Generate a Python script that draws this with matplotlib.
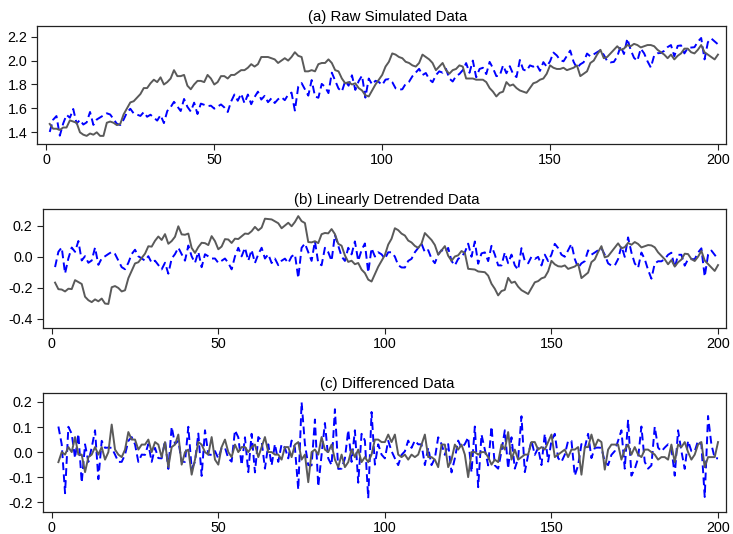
import numpy as np
import matplotlib
matplotlib.use('Agg')
import matplotlib.pyplot as plt
from matplotlib.ticker import FormatStrFormatter

plt.rcParams['font.family'] = ['Liberation Sans', 'DejaVu Sans']
plt.rcParams['axes.unicode_minus'] = False

# time index
t = np.arange(1, 201)

gray_raw = [
    1.47, 1.43, 1.43, 1.42, 1.44, 1.44, 1.50, 1.49, 1.48, 1.40,
    1.38, 1.37, 1.39, 1.38, 1.40, 1.37, 1.37, 1.48, 1.49, 1.48,
    1.46, 1.47, 1.55, 1.60, 1.65, 1.66, 1.69, 1.72, 1.77, 1.77,
    1.81, 1.84, 1.82, 1.86, 1.80, 1.82, 1.85, 1.92, 1.87, 1.87,
    1.88, 1.79, 1.76, 1.80, 1.83, 1.83, 1.82, 1.88, 1.85, 1.80,
    1.82, 1.87, 1.87, 1.85, 1.88, 1.88, 1.90, 1.92, 1.92, 1.94,
    1.97, 1.95, 1.97, 2.03, 2.03, 2.03, 2.02, 2.01, 1.98, 2.00,
    2.02, 2.00, 2.03, 2.07, 2.04, 2.03, 1.91, 1.91, 1.92, 1.91,
    1.97, 1.98, 1.98, 2.01, 1.98, 1.92, 1.91, 1.85, 1.81, 1.82,
    1.80, 1.81, 1.77, 1.75, 1.71, 1.70, 1.75, 1.80, 1.84, 1.88,
    1.95, 1.99, 2.06, 2.05, 2.03, 2.02, 1.99, 1.98, 1.96, 1.95,
    1.98, 2.05, 2.03, 2.01, 1.98, 1.92, 1.95, 1.98, 1.92, 1.89,
    1.92, 1.93, 1.96, 1.95, 1.85, 1.85, 1.85, 1.84, 1.84, 1.84,
    1.82, 1.77, 1.74, 1.70, 1.73, 1.74, 1.82, 1.79, 1.80, 1.77,
    1.75, 1.74, 1.73, 1.77, 1.81, 1.82, 1.84, 1.85, 1.89, 1.96,
    1.94, 1.93, 1.93, 1.94, 1.92, 1.93, 1.94, 1.96, 1.87, 1.89,
    1.91, 1.98, 2.00, 2.05, 2.09, 2.02, 2.03, 2.06, 2.09, 2.12,
    2.09, 2.10, 2.13, 2.12, 2.14, 2.13, 2.11, 2.12, 2.13, 2.13,
    2.12, 2.09, 2.07, 2.05, 2.02, 2.05, 2.01, 2.04, 2.06, 2.10,
    2.10, 2.07, 2.06, 2.09, 2.13, 2.07, 2.05, 2.03, 2.01, 2.05,
]

# blue series: trend plus noise (raw values)
blue_raw = [
    1.403, 1.505, 1.536, 1.372, 1.473, 1.546, 1.522, 1.595, 1.473, 1.504,
    1.465, 1.483, 1.570, 1.462, 1.507, 1.524, 1.542, 1.559, 1.549, 1.510,
    1.471, 1.461, 1.506, 1.566, 1.597, 1.558, 1.548, 1.537, 1.569, 1.530,
    1.547, 1.523, 1.498, 1.544, 1.477, 1.578, 1.610, 1.655, 1.617, 1.578,
    1.679, 1.613, 1.574, 1.648, 1.553, 1.640, 1.630, 1.619, 1.623, 1.598,
    1.615, 1.633, 1.608, 1.570, 1.657, 1.716, 1.664, 1.723, 1.643, 1.716,
    1.635, 1.695, 1.740, 1.674, 1.705, 1.652, 1.684, 1.645, 1.677, 1.694,
    1.669, 1.715, 1.732, 1.582, 1.781, 1.812, 1.760, 1.707, 1.837, 1.700,
    1.689, 1.805, 1.780, 1.728, 1.899, 1.832, 1.766, 1.741, 1.829, 1.790,
    1.877, 1.755, 1.828, 1.874, 1.690, 1.850, 1.800, 1.831, 1.821, 1.796,
    1.841, 1.845, 1.820, 1.768, 1.757, 1.760, 1.806, 1.823, 1.869, 1.900,
    1.931, 1.879, 1.896, 1.844, 1.819, 1.878, 1.910, 1.899, 1.931, 1.850,
    1.825, 1.871, 1.888, 1.920, 1.979, 1.898, 2.000, 1.860, 1.930, 1.940,
    1.887, 1.989, 1.936, 1.870, 1.873, 1.960, 1.894, 1.953, 1.887, 1.862,
    2.005, 1.925, 1.914, 1.960, 1.949, 1.966, 1.914, 1.987, 1.949, 1.994,
    2.067, 2.043, 2.004, 1.994, 2.039, 2.084, 1.990, 1.937, 1.969, 1.986,
    2.059, 2.035, 2.052, 2.070, 2.087, 2.048, 1.996, 1.985, 1.989, 2.034,
    2.121, 2.055, 2.184, 2.090, 2.023, 1.998, 2.100, 2.061, 1.995, 1.942,
    2.043, 2.061, 2.064, 2.082, 2.113, 2.130, 2.036, 2.123, 2.127, 2.060,
    2.105, 2.109, 2.112, 2.158, 2.189, 2.010, 2.154, 2.185, 2.161, 2.136,
]

titles = ['(a) Raw Simulated Data', '(b) Linearly Detrended Data', '(c) Differenced Data']
yticks_a = [1.4, 1.6, 1.8, 2.0, 2.2]
yticks_b = [-0.4, -0.2, 0.0, 0.2]
yticks_c = [-0.2, -0.1, 0.0, 0.1, 0.2]
xticks = [0, 50, 100, 150, 200]

gray = np.array(gray_raw)
blue = np.array(blue_raw)


def detrend(y):
    b, a = np.polyfit(t, y, 1)
    return y - (a + b * t)


gray_dt = detrend(gray)
blue_dt = detrend(blue)
gray_d = np.diff(gray)
blue_d = np.diff(blue)

GRAY = '#5a5a5a'
BLUE = '#0000ff'

fig = plt.figure(figsize=(7.33, 5.34), dpi=100)
ax_a = fig.add_axes([0.0509, 0.7303, 0.9396, 0.2216])
ax_b = fig.add_axes([0.0583, 0.3852, 0.9322, 0.2228])
ax_c = fig.add_axes([0.0583, 0.0412, 0.9322, 0.2234])

panels = [
    (ax_a, t, gray, blue, yticks_a, (1.302, 2.292), 0.508),
    (ax_b, t, gray_dt, blue_dt, yticks_b, (-0.46, 0.307), 0.504),
    (ax_c, t[1:], gray_d, blue_d, yticks_c, (-0.239, 0.237), 0.504),
]

for (ax, x, g, bl, yt, ylim, tx), title in zip(panels, titles):
    ax.plot(x, bl, color=BLUE, lw=1.4, linestyle=(0, (4, 2.2)))
    ax.plot(x, g, color=GRAY, lw=1.4)
    ax.set_xlim(-2.7, 202.4)
    ax.set_ylim(*ylim)
    ax.set_xticks(xticks)
    ax.set_yticks(yt)
    ax.yaxis.set_major_formatter(FormatStrFormatter('%.1f'))
    ax.tick_params(direction='out', length=4, width=0.8, pad=2.5,
                   labelsize=10.3, colors='#222222', labelcolor='black')
    ax.tick_params(axis='y', pad=3.2)
    for sp in ax.spines.values():
        sp.set_linewidth(0.9)
        sp.set_color('#222222')
    ax.set_title(title, fontsize=10.8, pad=3.5, x=tx)

fig.savefig('out.png', dpi=100)
